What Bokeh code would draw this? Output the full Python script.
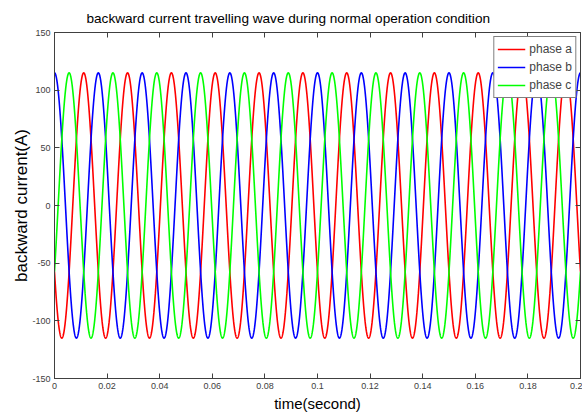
import numpy as np
from bokeh.plotting import figure
from bokeh.models import Range1d, LinearAxis, FixedTicker, Legend, LegendItem
from bokeh.embed import file_html
from bokeh.resources import INLINE

# ---- data ----
phase_labels = ["phase a", "phase b", "phase c"]
phase_colors = ["#ff0000", "#0000ff", "#00ff00"]
amplitude_A = [115, 115, 115]          # peak current of each phase
frequency_hz = 60                      # one cycle every ~0.0167 s
phase_angle_deg = [-240, 0, -120]      # peak of b at t=0, c at T/3, a at 2T/3
t_start, t_end = 0.0, 0.2

x_ticks = [0, 0.02, 0.04, 0.06, 0.08, 0.1, 0.12, 0.14, 0.16, 0.18, 0.2]
x_tick_labels = ["0", "0.02", "0.04", "0.06", "0.08", "0.1", "0.12", "0.14", "0.16", "0.18", "0.2"]
y_ticks = [-150, -100, -50, 0, 50, 100, 150]
y_tick_labels = ["-150", "-100", "-50", "0", "50", "100", "150"]

FONT = "Liberation Sans"
AXIS_COL = "#404040"

p = figure(width=582, height=414, output_backend="svg", toolbar_location=None,
           x_range=Range1d(t_start, t_end), y_range=Range1d(-150, 150),
           min_border_left=54, min_border_right=2, min_border_top=32, min_border_bottom=35,
           background_fill_color="white", border_fill_color="white")

p.title.text = "backward current travelling wave during normal operation condition"
p.title.text_font = FONT
p.title.text_font_size = "13.6px"
p.title.text_font_style = "normal"
p.title.text_color = "black"
p.title.align = "left"
p.title.offset = 32
p.title.standoff = 13

p.xgrid.visible = False
p.ygrid.visible = False
p.outline_line_color = AXIS_COL
p.outline_line_width = 1

t = np.linspace(t_start, t_end, 4001)
renderers = []
for lab, col, amp, ph in zip(phase_labels, phase_colors, amplitude_A, phase_angle_deg):
    y = amp * np.cos(2 * np.pi * frequency_hz * t + np.deg2rad(ph))
    r = p.line(t, y, line_color=col, line_width=1.6)
    renderers.append((lab, r))

def style_axis(ax, ticks, labels, show_labels=True):
    ax.ticker = FixedTicker(ticks=ticks)
    if show_labels:
        ax.major_label_overrides = {tk: lb for tk, lb in zip(ticks, labels)}
    else:
        ax.major_label_overrides = {tk: "" for tk in ticks}
    ax.major_tick_in = 5
    ax.major_tick_out = 0
    ax.minor_tick_in = 0
    ax.minor_tick_out = 0
    ax.axis_line_color = AXIS_COL
    ax.major_tick_line_color = AXIS_COL
    ax.major_label_text_font = FONT
    ax.major_label_text_color = AXIS_COL
    ax.major_label_text_font_size = "9px"
    ax.major_label_standoff = 4 if show_labels else 0

xa = p.xaxis[0]
ya = p.yaxis[0]
style_axis(xa, x_ticks, x_tick_labels)
style_axis(ya, y_ticks, y_tick_labels)
xa.axis_label = "time(second)"
ya.axis_label = "backward current(A)"
for ax in (xa, ya):
    ax.axis_label_text_font = FONT
    ax.axis_label_text_font_style = "normal"
    ax.axis_label_text_color = "black"
xa.axis_label_text_font_size = "15px"
ya.axis_label_text_font_size = "17px"
xa.axis_label_standoff = 3
ya.axis_label_standoff = -2

top = LinearAxis()
style_axis(top, x_ticks, x_tick_labels, show_labels=False)
p.add_layout(top, "above")
right = LinearAxis()
style_axis(right, y_ticks, y_tick_labels, show_labels=False)
p.add_layout(right, "right")

legend = Legend(items=[LegendItem(label=lab, renderers=[r]) for lab, r in renderers],
                location="top_right")
legend.margin = 4
legend.padding = 3
legend.spacing = 0
legend.label_height = 18
legend.glyph_height = 18
legend.glyph_width = 28
legend.label_standoff = 4
legend.label_text_font = FONT
legend.label_text_font_size = "12px"
legend.border_line_color = "black"
legend.border_line_width = 1
legend.background_fill_alpha = 1
p.add_layout(legend)

open("out.html", "w").write(file_html(p, INLINE))
